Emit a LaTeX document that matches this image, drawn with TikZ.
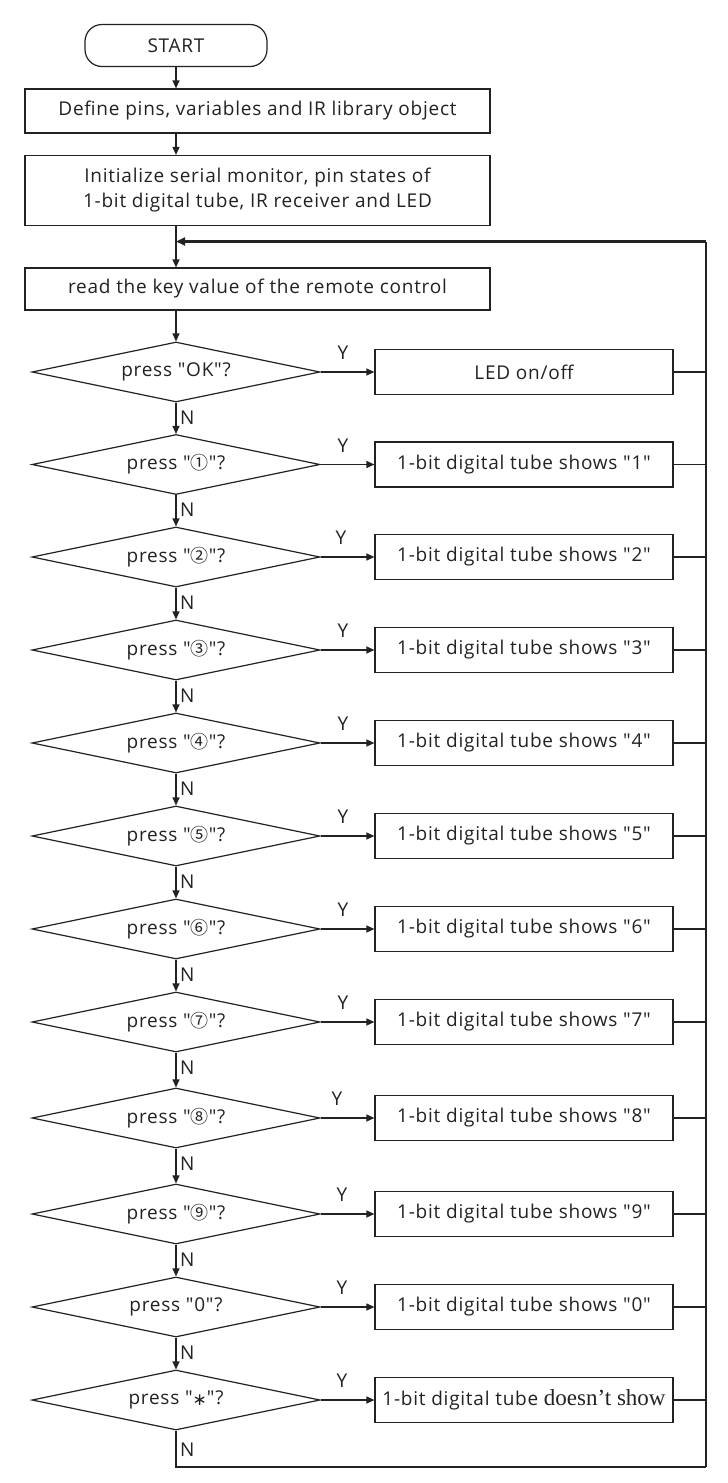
\documentclass[tikz,border=0pt]{standalone}
\usepackage{fontspec}
\setmainfont{Open Sans}[Ligatures=TeXOff,LetterSpace=4]
\newfontfamily\serifpart{Liberation Serif}[Ligatures=TeXOff]
\newfontfamily\symfont{Noto Sans CJK SC}[Ligatures=TeXOff]
\newfontfamily\starfont{DejaVu Sans}
\usetikzlibrary{shapes.geometric,arrows.meta}
\definecolor{ink}{HTML}{222222}
\newcommand{\onoff}{on/off}
\newcommand{\cs}[1]{{\symfont\fontsize{18}{22}\selectfont #1}}
\begin{document}
\begin{tikzpicture}[x=1pt,y=-1pt,
  base/.style={draw=ink, line width=1.2pt, text=ink, inner sep=0pt, font=\fontsize{19}{25}\selectfont, align=center},
  proc/.style={base, rectangle, minimum width=465pt, minimum height=44pt},
  side/.style={base, rectangle, minimum width=298pt, minimum height=45pt},
  decision/.style={base, diamond, aspect=4.8, minimum width=288pt, minimum height=60pt},
  term/.style={base, rectangle, rounded corners=17pt, minimum width=182pt, minimum height=42pt},
  conn/.style={draw=ink, line width=1.2pt},
  arr/.style={conn, -{Triangle[length=8pt,width=7pt]}},
  loopline/.style={draw=ink, line width=2.2pt},
  lab/.style={text=ink, inner sep=0pt, font=\fontsize{19}{22}\selectfont}
]
\useasboundingbox (0,0) rectangle (728,1483);
\fill[white] (0,0) rectangle (728,1483);

\node[term] (start) at (176,45.5) {START};
\node[proc] (def) at (257.5,111) {Define pins, variables and IR library object};
\node[proc, minimum height=70pt] (init) at (257.5,190.5) {Initialize serial monitor, pin states of\\1-bit digital tube, IR receiver and LED};
\coordinate (j) at (176,241.5);
\node[proc, minimum height=42pt] (read) at (257.5,289) {read the key value of the remote control};

\coordinate (rtop) at (706,241.5);
\coordinate (rbot) at (706,1467);

\foreach \n/\y/\t/\r/\yl in {
  0/372/{press "OK"?}/{LED \onoff}/343,
  1/464.5/{press "\cs{①}"?}/{1-bit digital tube shows "1"}/343,
  2/557/{press "\cs{②}"?}/{1-bit digital tube shows "2"}/341,
  3/650/{press "\cs{③}"?}/{1-bit digital tube shows "3"}/343,
  4/743/{press "\cs{④}"?}/{1-bit digital tube shows "4"}/343,
  5/836/{press "\cs{⑤}"?}/{1-bit digital tube shows "5"}/343,
  6/929/{press "\cs{⑥}"?}/{1-bit digital tube shows "6"}/343,
  7/1022/{press "\cs{⑦}"?}/{1-bit digital tube shows "7"}/343,
  8/1118/{press "\cs{⑧}"?}/{1-bit digital tube shows "8"}/337,
  9/1214/{press "\cs{⑨}"?}/{1-bit digital tube shows "9"}/342,
  10/1307/{press "0"?}/{1-bit digital tube shows "0"}/342,
  11/1400/{press "\raisebox{-1pt}{\starfont\fontsize{17}{20}\selectfont ∗}"?}/{1-bit digital tube{\serifpart\fontsize{23}{25}\selectfont\ doesn’t show}}/342}{
  \node[decision] (d\n) at (176,\y) {\t};
  \node[side] (b\n) at (524,\y) {\r};
  \draw[arr] (d\n.east) -- (b\n.west);
  \draw[conn] (b\n.east) -- (b\n.east -| rtop);
  \node[lab] (y\n) at (\yl,\y-19) {Y};
}

\draw[arr] (start.south) -- (start.south |- def.north);
\draw[arr] (start.south |- def.south) -- (start.south |- init.north);
\draw[arr] (start.south |- init.south) -- (start.south |- read.north);
\draw[arr] (d0.north |- read.south) -- (d0.north);
\foreach \a/\b in {0/1,1/2,2/3,3/4,4/5,5/6,6/7,7/8,8/9,9/10,10/11}{
  \draw[arr] (d\a.south) -- (d\b.north);
  \node[lab, anchor=west] (n\a) at ([xshift=4pt,yshift=-15pt]d\a.south) {N};
}
\node[lab, anchor=west] (n11) at ([xshift=4pt,yshift=-19pt]d11.south) {N};

\draw[conn] (d11.south) |- (rbot);
\draw[loopline] (rbot) -- (rtop);
\draw[loopline, -{Triangle[length=9pt,width=8pt]}] (rtop) -- (j);
\end{tikzpicture}
\end{document}
